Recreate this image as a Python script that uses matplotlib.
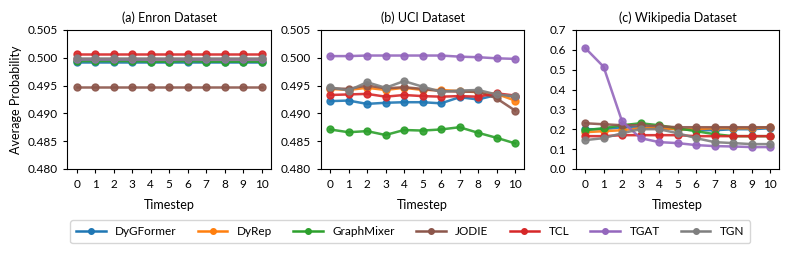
import matplotlib
matplotlib.use("Agg")
import matplotlib.pyplot as plt
from matplotlib.lines import Line2D
import numpy as np

plt.rcParams['font.family'] = ['Lato', 'DejaVu Sans']
plt.rcParams['font.size'] = 8

timesteps = list(range(11))
models = ['DyGFormer', 'DyRep', 'GraphMixer', 'JODIE', 'TCL', 'TGAT', 'TGN']
colors = ['#1f77b4', '#ff7f0e', '#2ca02c', '#8c564b', '#d62728', '#9467bd', '#7f7f7f']

# Enron
enron_dygformer = [0.4992] * 11
enron_dyrep = [0.4998] * 11
enron_graphmixer = [0.4994, 0.4994, 0.4994, 0.4994, 0.4993, 0.4993, 0.4994, 0.4993, 0.4993, 0.4993, 0.4993]
enron_jodie = [0.4948] * 11
enron_tcl = [0.5006] * 11
enron_tgat = [0.4998] * 11
enron_tgn = [0.5000] * 11

# UCI
uci_dygformer = [0.4922, 0.4923, 0.4917, 0.4919, 0.4920, 0.4920, 0.4918, 0.4929, 0.4925, 0.4933, 0.4930]
uci_dyrep = [0.4944, 0.4942, 0.4946, 0.4942, 0.4946, 0.4942, 0.4942, 0.4940, 0.4938, 0.4935, 0.4923]
uci_graphmixer = [0.4871, 0.4866, 0.4868, 0.4861, 0.4870, 0.4869, 0.4871, 0.4875, 0.4865, 0.4856, 0.4846]
uci_jodie = [0.4945, 0.4944, 0.4950, 0.4945, 0.4947, 0.4944, 0.4940, 0.4939, 0.4939, 0.4927, 0.4905]
uci_tcl = [0.4933, 0.4934, 0.4935, 0.4930, 0.4933, 0.4931, 0.4930, 0.4931, 0.4930, 0.4936, 0.4932]
uci_tgat = [0.5003, 0.5003, 0.5004, 0.5004, 0.5004, 0.5004, 0.5004, 0.5002, 0.5001, 0.4999, 0.4998]
uci_tgn = [0.4947, 0.4941, 0.4956, 0.4946, 0.4958, 0.4948, 0.4939, 0.4941, 0.4942, 0.4934, 0.4931]

# Wikipedia
wiki_dygformer = [0.200, 0.200, 0.210, 0.210, 0.205, 0.200, 0.195, 0.195, 0.200, 0.200, 0.205]
wiki_dyrep = [0.185, 0.190, 0.195, 0.205, 0.205, 0.200, 0.200, 0.205, 0.205, 0.205, 0.210]
wiki_graphmixer = [0.195, 0.205, 0.220, 0.230, 0.220, 0.205, 0.190, 0.175, 0.165, 0.165, 0.165]
wiki_jodie = [0.230, 0.225, 0.220, 0.220, 0.215, 0.210, 0.210, 0.210, 0.210, 0.210, 0.210]
wiki_tcl = [0.165, 0.165, 0.170, 0.170, 0.170, 0.170, 0.165, 0.165, 0.165, 0.165, 0.165]
wiki_tgat = [0.610, 0.515, 0.240, 0.155, 0.135, 0.130, 0.120, 0.115, 0.113, 0.110, 0.110]
wiki_tgn = [0.145, 0.155, 0.180, 0.200, 0.200, 0.180, 0.155, 0.135, 0.130, 0.125, 0.125]

panels = [
    ('(a) Enron Dataset', [enron_dygformer, enron_dyrep, enron_graphmixer, enron_jodie,
                           enron_tcl, enron_tgat, enron_tgn],
     (0.480, 0.505), np.arange(0.480, 0.5051, 0.005), '{:.3f}'),
    ('(b) UCI Dataset', [uci_dygformer, uci_dyrep, uci_graphmixer, uci_jodie,
                         uci_tcl, uci_tgat, uci_tgn],
     (0.480, 0.505), np.arange(0.480, 0.5051, 0.005), '{:.3f}'),
    ('(c) Wikipedia Dataset', [wiki_dygformer, wiki_dyrep, wiki_graphmixer, wiki_jodie,
                               wiki_tcl, wiki_tgat, wiki_tgn],
     (0.0, 0.7), np.arange(0.0, 0.71, 0.1), '{:.1f}'),
]

fig = plt.figure(figsize=(7.92, 2.54), dpi=100)
lefts = [0.085, 0.405, 0.727]
w, b, h = 0.257, 0.335, 0.547

for i, (title, series, ylim, yticks, fmt) in enumerate(panels):
    ax = fig.add_axes([lefts[i], b, w, h])
    for name, vals, c in zip(models, series, colors):
        ax.plot(timesteps, vals, marker='o', color=c, lw=1.8, ms=5, alpha=0.9)
    ax.set_xlim(-0.5, 10.5)
    ax.set_ylim(*ylim)
    ax.set_yticks(yticks)
    ax.set_yticklabels([fmt.format(t) for t in yticks])
    ax.set_xticks(timesteps)
    ax.set_title(title, fontsize=9, pad=6)
    ax.set_xlabel('Timestep', fontsize=9, labelpad=7)
    if i == 0:
        ax.set_ylabel('Average Probability', fontsize=9)
    ax.tick_params(labelsize=8.5, length=3, pad=4)

handles = [Line2D([0], [0], color=c, marker='o', lw=1.8, ms=4) for c in colors]
fig.legend(handles, models, loc='center', bbox_to_anchor=(0.518, 0.088), ncol=7,
           frameon=True, fontsize=8.5, handlelength=2.5, columnspacing=1.8,
           borderpad=0.5, fancybox=True)

fig.savefig('out.png', dpi=100)
